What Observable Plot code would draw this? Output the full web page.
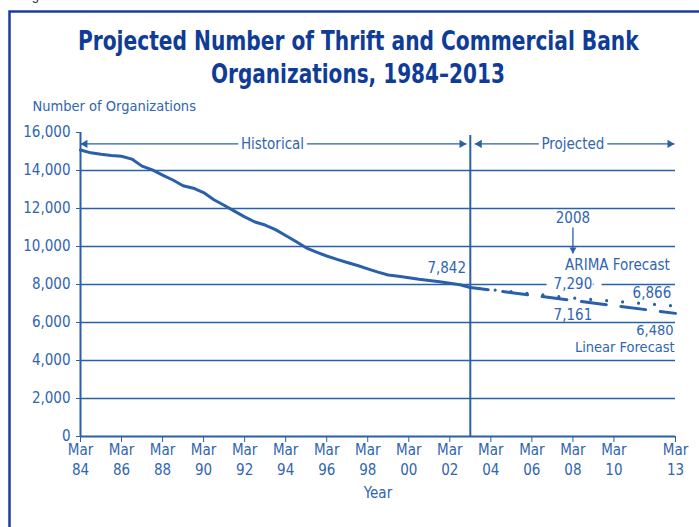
<!DOCTYPE html>
<html><head><meta charset="utf-8">
<script src="https://cdn.jsdelivr.net/npm/d3@7"></script>
<script src="https://cdn.jsdelivr.net/npm/@observablehq/plot@0.6"></script>
<style>
html,body{margin:0;padding:0;background:#fff;}
#chart svg{display:block;}
</style></head><body><div id="chart"></div>
<script>
// ---- data ----
const histDates = ["1984-03","1984-09","1985-03","1985-09","1986-03","1986-09","1987-03","1987-09","1988-03","1988-09",
  "1989-03","1989-09","1990-03","1990-09","1991-03","1991-09","1992-03","1992-09","1993-03","1993-09",
  "1994-03","1994-09","1995-03","1995-09","1996-03","1996-09","1997-03","1997-09","1998-03","1998-09",
  "1999-03","1999-09","2000-03","2000-09","2001-03","2001-09","2002-03","2002-09","2003-03"];
const histValues = [15080,14930,14850,14790,14750,14600,14230,14030,13760,13500,
  13200,13070,12840,12460,12170,11860,11560,11290,11130,10890,
  10580,10260,9930,9700,9500,9320,9160,9000,8820,8650,
  8500,8430,8360,8280,8215,8150,8070,7990,7842];
const forecastDates = ["2003-03","2008-03","2013-03"];
const linearValues = [7842,7161,6480];
const arimaValues = [7842,7290,6866];
const yTicks = [0,2000,4000,6000,8000,10000,12000,14000,16000];
const gridValues = [2000,4000,6000,8000,10000,12000,14000];
const xTickDates = ["1984-03","1986-03","1988-03","1990-03","1992-03","1994-03","1996-03","1998-03",
  "2000-03","2002-03","2004-03","2006-03","2008-03","2010-03","2013-03"];
const titleLines = ["Projected Number of Thrift and Commercial Bank","Organizations, 1984–2013"];
const yLabel = "Number of Organizations";
const xLabel = "Year";
const figureLabel = "Figure 1";
const divideDate = "2003-03";
const periodNames = ["Historical","Projected"];
const periodStart = ["1984-03-01","2003-05-20"];
const periodEnd = ["2002-12-22","2013-02-10"];
const periodLabelDate = ["1993-07-10","2008-03-01"];
const arrowRowValue = 15400;
const noteTexts = ["7,842","ARIMA Forecast","6,866"];
const noteDates = ["2002-12-15","2012-11-20","2012-12-15"];
const noteValues = [8860,9000,7540];
const lowNoteTexts = ["6,480","Linear Forecast"];
const lowNoteDates = ["2013-01-25","2013-02-15"];
const lowNoteValues = [5580,4680];
const midNoteTexts = ["2008","7,161"];
const midNoteValues = [11470,6405];
const gapNoteText = "7,290";
const gapNoteValue = 8000;
const markerDate = "2008-03";
const markerFrom = 11000, markerTo = 9630;

// ---- helpers ----
const P = s => new Date(s.length === 7 ? s + "-01" : s);
const BLUE = "#2a60aa";
const TEXT = "#3065b0";
const FONT = "'Liberation Sans Narrow','Arial Narrow','DejaVu Sans Condensed',sans-serif";

const historical = histDates.map((d,i)=>({date:P(d), value:histValues[i]}));
const linear = forecastDates.map((d,i)=>({date:P(d), value:linearValues[i]}));
const arima = forecastDates.map((d,i)=>({date:P(d), value:arimaValues[i]}));
const periods = periodNames.map((n,i)=>({name:n, x1:P(periodStart[i]), x2:P(periodEnd[i]), xl:P(periodLabelDate[i])}));
const notes = noteTexts.map((t,i)=>({text:t, date:P(noteDates[i]), value:noteValues[i]}));
const lowNotes = lowNoteTexts.map((t,i)=>({text:t, date:P(lowNoteDates[i]), value:lowNoteValues[i]}));
const midNotes = midNoteTexts.map((t,i)=>({text:t, date:P(markerDate), value:midNoteValues[i]}));

const chart = Plot.plot({
  width: 699, height: 527,
  marginLeft: 80, marginRight: 24, marginTop: 132, marginBottom: 91,
  style: {fontFamily: FONT, fontSize: "15px", color: TEXT, background: "transparent"},
  x: {type: "utc", domain: [P("1984-03"), P("2013-03")]},
  y: {domain: [0, 16000]},
  marks: [
    Plot.ruleY(gridValues, {stroke: BLUE, strokeWidth: 1.3}),
    Plot.axisY({ticks: yTicks, tickFormat: d3.format(","), tickSize: 4, tickPadding: 6, label: null, fontSize: 15, stroke: BLUE, fill: TEXT}),
    Plot.axisX({ticks: xTickDates.map(P), tickFormat: d => "Mar\n" + d3.utcFormat("%y")(d), tickSize: 6, tickPadding: -2,
      label: null, fontSize: 15, lineHeight: 1.36, stroke: BLUE, fill: TEXT}),
    Plot.ruleX([P("1984-03")], {y1: 0, y2: 16000, stroke: BLUE, strokeWidth: 2}),
    Plot.ruleY([0], {stroke: BLUE, strokeWidth: 2.2}),
    Plot.ruleX([P(divideDate)], {y1: 0, y2: 16000, stroke: BLUE, strokeWidth: 2, insetBottom: -3}),
    // period arrows
    Plot.link(periods, {x1: "x1", x2: "x2", y1: arrowRowValue, y2: arrowRowValue, stroke: BLUE, strokeWidth: 1.3}),
    Plot.dot(periods, {x: "x1", y: arrowRowValue, symbol: "triangle", r: 3, rotate: -90, dx: 4.6, fill: BLUE, stroke: "none"}),
    Plot.dot(periods, {x: "x2", y: arrowRowValue, symbol: "triangle", r: 3, rotate: 90, dx: -4.6, fill: BLUE, stroke: "none"}),
    Plot.text(periods, {x: "xl", y: arrowRowValue, text: "name", fill: TEXT, stroke: "white", strokeWidth: 8, paintOrder: "stroke", fontSize: 15}),
    // 7,290 with gap in gridline
    Plot.text([gapNoteText], {x: P(markerDate), y: gapNoteValue, text: d => d, fill: TEXT, stroke: "white", strokeWidth: 20, paintOrder: "stroke", fontSize: 15}),
    // series
    Plot.line(historical, {x: "date", y: "value", stroke: BLUE, strokeWidth: 3}),
    Plot.line(linear, {x: "date", y: "value", stroke: BLUE, strokeWidth: 3, strokeDasharray: "25,14.7", strokeDashoffset: 7}),
    Plot.line(arima, {x: "date", y: "value", stroke: BLUE, strokeWidth: 3.2, strokeDasharray: "0,16", strokeDashoffset: 7, strokeLinecap: "round"}),
    // notes
    Plot.text(notes, {x: "date", y: "value", text: "text", textAnchor: "end", fill: TEXT, fontSize: 15}),
    Plot.text(lowNotes, {x: "date", y: "value", text: "text", textAnchor: "end", fill: TEXT, fontSize: 14.5}),
    Plot.text(midNotes, {x: "date", y: "value", text: "text", fill: TEXT, fontSize: 15}),
    Plot.link([0], {x1: P(markerDate), x2: P(markerDate), y1: markerFrom, y2: markerTo, stroke: BLUE, strokeWidth: 1.3}),
    Plot.dot([0], {x: P(markerDate), y: markerTo, symbol: "triangle", r: 2.6, rotate: 180, dy: -4, fill: BLUE, stroke: "none"}),
    // axis titles
    Plot.text([yLabel], {frameAnchor: "top-left", lineAnchor: "middle", dx: -48, dy: -26, text: d => d, textAnchor: "start", fill: TEXT, fontSize: 14.5}),
    Plot.text([xLabel], {frameAnchor: "bottom", lineAnchor: "middle", dy: 57, text: d => d, fill: TEXT, fontSize: 15})
  ]
});
document.getElementById("chart").appendChild(chart);

// title, frame and cut-off figure label
const svg = d3.select(chart);
svg.append("path").attr("d", "M9.5,540V11.5H710").attr("fill", "none").attr("stroke", "#1b3c9e").attr("stroke-width", 2.5);
svg.append("text").text(figureLabel).attr("x", 21).attr("y", 0).attr("fill", "#222").attr("text-anchor", "start")
  .style("font-family", "'Liberation Sans',Arial,sans-serif").style("font-size", "13px");
const tl = [{t: titleLines[0], x: 78, y: 49.5, w: 561}, {t: titleLines[1], x: 211, y: 82.5, w: 294}];
tl.forEach(d => {
  const node = svg.append("text").text(d.t).attr("x", 0).attr("y", 0)
    .attr("text-anchor", "start")
    .attr("fill", "#0f3c96")
    .style("font-family", FONT).style("font-size", "27px").style("font-weight", "bold");
  const L = node.node().getComputedTextLength() || d.w;
  node.attr("transform", `translate(${d.x},${d.y}) scale(${d.w / L},1)`);
});
</script></body></html>
